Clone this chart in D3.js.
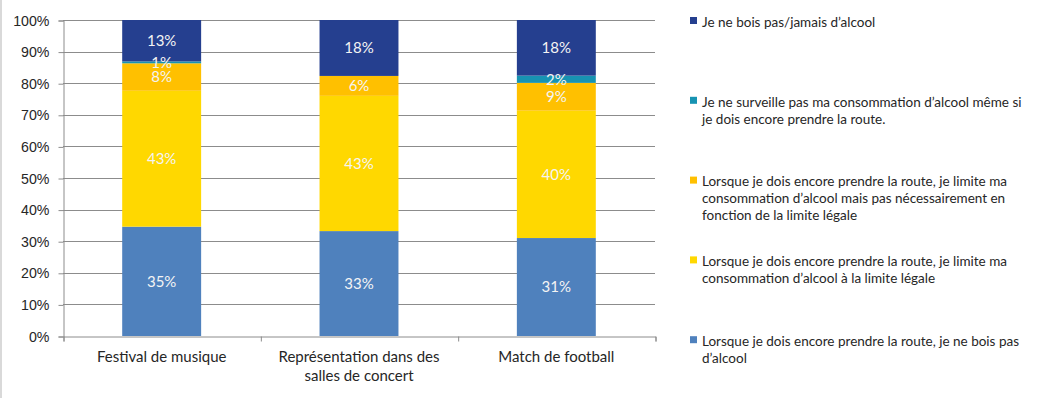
<!DOCTYPE html>
<html>
<head>
<meta charset="utf-8">
<script src="https://cdn.jsdelivr.net/npm/d3@7"></script>
<style>
body{margin:0;background:#fff;}
svg{display:block;font-family:Lato,"Open Sans",sans-serif;}
.grid line{stroke:#8c8c8c;stroke-width:1;}
.axis path,.axis line{stroke:#8c8c8c;}
.axis text{fill:#262626;font-size:14.2px;}
.lbl{fill:#f4f4f4;font-size:15px;}
.leg{fill:#262626;font-size:13.5px;}
</style>
</head>
<body>
<svg id="chart"></svg>
<script>
var w=1041;
var h=398;
var margin={left:63,right:386,top:20,bottom:62};

var categories=[["Festival de musique"],["Représentation dans des","salles de concert"],["Match de football"]];
var catKeys=["Festival de musique","Représentation dans des salles de concert","Match de football"];
var seriesNames=[
  "Lorsque je dois encore prendre la route, je ne bois pas d’alcool",
  "Lorsque je dois encore prendre la route, je limite ma consommation d’alcool à la limite légale",
  "Lorsque je dois encore prendre la route, je limite ma consommation d’alcool mais pas nécessairement en fonction de la limite légale",
  "Je ne surveille pas ma consommation d’alcool même si je dois encore prendre la route.",
  "Je ne bois pas/jamais d’alcool"
];
// legend lines, top item first
var legendLines=[
  ["Je ne bois pas/jamais d’alcool"],
  ["Je ne surveille pas ma consommation d’alcool même si","je dois encore prendre la route."],
  ["Lorsque je dois encore prendre la route, je limite ma","consommation d’alcool mais pas nécessairement en","fonction de la limite légale"],
  ["Lorsque je dois encore prendre la route, je limite ma","consommation d’alcool à la limite légale"],
  ["Lorsque je dois encore prendre la route, je ne bois pas","d’alcool"]
];
var pasBoire=[34.6,33.2,31.0];
var limiteLegale=[43.0,42.8,40.3];
var limitePasLegale=[8.7,6.3,8.8];
var surveillePas=[0.6,0,2.3];
var jamais=[13.1,17.7,17.6];
var labels=[["35%","33%","31%"],["43%","43%","40%"],["8%","6%","9%"],["1%","","2%"],["13%","18%","18%"]];
var colors=["#4f81bd","#ffd800","#ffc000","#1793b2","#253f8f"];
var yTicks=[0,0.1,0.2,0.3,0.4,0.5,0.6,0.7,0.8,0.9,1];

var allSeries=[pasBoire,limiteLegale,limitePasLegale,surveillePas,jamais];
var rows=catKeys.map(function(c,i){
  var r={cat:c};
  allSeries.forEach(function(s,j){r["s"+j]=s[i];});
  return r;
});
var keys=allSeries.map(function(s,j){return "s"+j;});
var stacked=d3.stack().keys(keys)(rows);

var svg=d3.select("#chart").attr("width",w).attr("height",h);

svg.append("rect").attr("x",0).attr("y",0).attr("width",2).attr("height",h).attr("fill","#d9d9d9");

var xScale=d3.scaleBand().domain(catKeys).range([margin.left,w-margin.right]).paddingInner(0.6).paddingOuter(0.3);
var xEdge=d3.scaleLinear().domain([0,3]).range([margin.left,w-margin.right]);
var yScale=d3.scaleLinear().domain([0,100]).range([h-margin.bottom,margin.top]);
var yPct=d3.scaleLinear().domain([0,1]).range([h-margin.bottom,margin.top]);

svg.append("g").classed("grid",true)
   .selectAll("line").data(yTicks.slice(1)).enter().append("line")
   .attr("x1",margin.left).attr("x2",w-margin.right)
   .attr("y1",function(d){return Math.round(yPct(d))+0.5;})
   .attr("y2",function(d){return Math.round(yPct(d))+0.5;});

svg.append("g").selectAll("g").data(stacked).enter().append("g")
   .attr("fill",function(d,i){return colors[i];})
   .selectAll("rect").data(function(d){return d;}).enter().append("rect")
   .attr("x",function(d){return xScale(d.data.cat);})
   .attr("width",xScale.bandwidth())
   .attr("y",function(d){return yScale(d[1]);})
   .attr("height",function(d){return yScale(d[0])-yScale(d[1]);});

var lab=svg.append("g");
stacked.forEach(function(s,j){
  s.forEach(function(d,i){
    if(!labels[j][i])return;
    lab.append("text").classed("lbl",true)
       .attr("x",xScale(d.data.cat)+xScale.bandwidth()/2)
       .attr("y",(yScale(d[0])+yScale(d[1]))/2)
       .attr("dy","0.35em")
       .attr("text-anchor","middle")
       .text(labels[j][i]);
  });
});

var yAxis=d3.axisLeft(yPct).tickValues(yTicks).tickFormat(d3.format(".0%")).tickSize(5).tickPadding(9);
svg.append("g").classed("axis",true)
   .attr("transform","translate("+(margin.left+0.5)+",0.5)")
   .call(yAxis);

var xAxis=d3.axisBottom(xEdge).tickValues([0,1,2,3]).tickSize(5).tickFormat("");
svg.append("g").classed("axis",true)
   .attr("transform","translate(0.5,"+(h-margin.bottom+0.5)+")")
   .call(xAxis);

svg.append("g").selectAll("text").data(categories).enter().append("text")
   .attr("text-anchor","middle")
   .attr("fill","#262626").style("font-size","15px")
   .attr("transform",function(d,i){return "translate("+(xScale(catKeys[i])+xScale.bandwidth()/2)+","+(h-margin.bottom+26)+")";})
   .selectAll("tspan").data(function(d){return d;}).enter().append("tspan")
   .attr("x",0).attr("dy",function(d,i){return i==0?0:19;})
   .text(function(d){return d;});

var legend=svg.append("g").attr("transform","translate(690,0)");
var item=legend.selectAll("g").data(legendLines).enter().append("g")
   .attr("transform",function(d,i){return "translate(0,"+(22+i*79.8)+")";});
item.append("rect").attr("x",0).attr("y",-5).attr("width",7).attr("height",7)
   .attr("fill",function(d,i){return colors[4-i];});
item.append("text").classed("leg",true)
   .selectAll("tspan").data(function(d){return d;}).enter().append("tspan")
   .attr("x",12).attr("y",function(d,i){return i*17;}).attr("dy","0.35em")
   .text(function(d){return d;});
</script>
</body>
</html>
